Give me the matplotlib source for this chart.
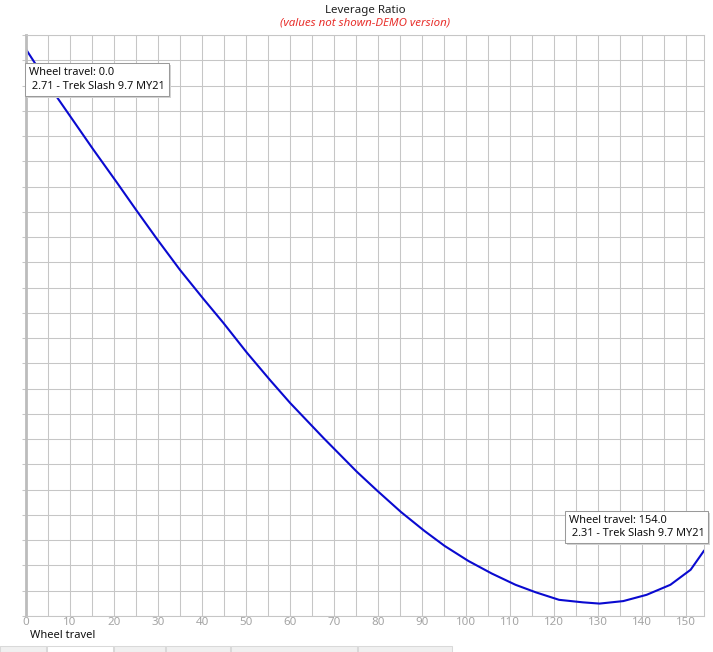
import numpy as np
import matplotlib
matplotlib.use("Agg")
import matplotlib.pyplot as plt
from matplotlib.patches import Rectangle
from matplotlib.transforms import IdentityTransform

# values
wheel_travel = [0, 7.0, 15.3, 20.6, 25.2, 29.7, 35.0, 40.3, 44.8, 50.2, 55.5, 60.0,
                67.6, 75.2, 79.8, 85.2, 90.5, 95.1, 100.5, 105.8, 111.2, 115.8,
                121.1, 126.5, 130.3, 135.7, 141.0, 146.4, 151.0, 154.0]
leverage = [2.710, 2.672, 2.630, 2.604, 2.581, 2.559, 2.534, 2.511, 2.492, 2.468,
            2.446, 2.428, 2.400, 2.373, 2.358, 2.341, 2.326, 2.314, 2.302, 2.292,
            2.283, 2.277, 2.271, 2.269, 2.268, 2.270, 2.275, 2.283, 2.295, 2.310]
bike = "Trek Slash 9.7 MY21"
x_ticks = list(range(0, 151, 10))

plt.rcParams['font.family'] = ['Noto Sans', 'DejaVu Sans']

W, H = 713, 652
fig = plt.figure(figsize=(W / 100, H / 100), dpi=100)
fig.patch.set_facecolor('white')

left, right, top, bottom = 26, 704.3, 35, 616
ax = fig.add_axes([left / W, 1 - bottom / H, (right - left) / W, (bottom - top) / H])

ylo, yhi = 2.2581, 2.7214
ax.set_xlim(0, 154.1)
ax.set_ylim(ylo, yhi)

grid_c = '#c6c6c6'
ax.set_xticks(np.arange(0, 154.1, 5), minor=True)
ax.set_xticks(x_ticks)
ax.set_yticks(np.linspace(ylo, yhi, 24))
ax.set_yticklabels([])
ax.grid(True, which='both', color=grid_c, linewidth=0.75)
ax.tick_params(axis='x', which='both', length=0, labelsize=8.3, labelcolor='#a4a4a4', pad=1)
ax.tick_params(axis='y', length=3, color=grid_c, width=0.75)
for s in ['top', 'right', 'bottom']:
    ax.spines[s].set_color(grid_c)
    ax.spines[s].set_linewidth(0.75)
ax.spines['left'].set_color('#bcbcbc')
ax.spines['left'].set_linewidth(2)

ax.plot(wheel_travel, leverage, color='#0a0ad0', linewidth=1.5, solid_joinstyle='round')

fig.text(30 / W, 1 - 635 / H, "Wheel travel", ha='left', va='center', fontsize=8, color='#111111')
fig.text(365 / W, 1 - 10 / H, "Leverage Ratio", ha='center', va='center', fontsize=8.3, color='#222222')
fig.text(365 / W, 1 - 23 / H, "(values not shown-DEMO version)", ha='center', va='center',
         fontsize=8.3, color='#e8302c', style='italic')


def tooltip(i, dx, dy):
    txt = f"Wheel travel: {wheel_travel[i]:.1f}\n {leverage[i]:.2f} - {bike}"
    xy = (wheel_travel[i], leverage[i])
    return ax.annotate(txt, xy=xy, xytext=(dx, dy), textcoords='offset pixels',
                       ha='left', va='top', fontsize=7.9, color='#111111', linespacing=1.3,
                       annotation_clip=False, zorder=6,
                       bbox=dict(boxstyle='square,pad=0.35', fc='white', ec='#9a9a9a', lw=0.75))


tips = [tooltip(0, 3, -18), tooltip(len(wheel_travel) - 1, -135, 36)]

# drop shadow under each tooltip box
fig.canvas.draw()
for t in tips:
    bb = t.get_bbox_patch().get_window_extent()
    ax.add_patch(Rectangle((bb.x0 + 2, bb.y0 - 2), bb.width, bb.height,
                           transform=IdentityTransform(), fc='#d4d4d4', ec='none',
                           zorder=5, clip_on=False))

# tab strip along the bottom of the window
fig.patches.append(Rectangle((0, 0), 452 / W, 6 / H, transform=fig.transFigure,
                             fc='#f0f0f0', ec='none'))
for x0, x1, fc in [(0, 46, '#f0f0f0'), (47, 113, 'white'), (114, 165, '#f0f0f0'),
                   (166, 230, '#f0f0f0'), (231, 357, '#f0f0f0'), (358, 452, '#f0f0f0')]:
    fig.patches.append(Rectangle((x0 / W, 0), (x1 - x0) / W, 6 / H, transform=fig.transFigure,
                                 fc=fc, ec='#d9d9d9', lw=0.75))

fig.savefig('out.png', dpi=100)
